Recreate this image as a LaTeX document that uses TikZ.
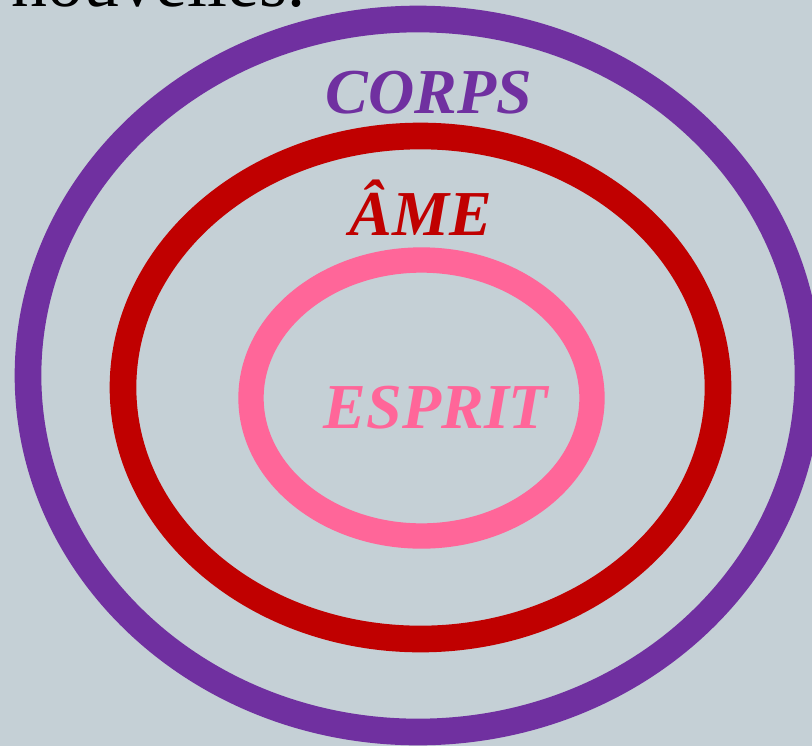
\documentclass[tikz,border=0pt]{standalone}
\usepackage{fontspec}
\setmainfont{Liberation Serif}
\usepackage{tikz}
\definecolor{bgblue}{HTML}{C5D0D6}
\definecolor{corpspurple}{HTML}{7030A0}
\definecolor{amered}{HTML}{C00000}
\definecolor{espritpink}{HTML}{FF6699}
\tikzset{
  ring/.style={line width=20pt},
  label/.style={font=\fontsize{48}{52}\selectfont\bfseries\itshape, inner sep=0pt}
}

\begin{document}
\begin{tikzpicture}[x=0.75pt,y=-0.75pt]

\fill[bgblue](0,0) rectangle (812,746);
\useasboundingbox (0,0) rectangle (812,746);

\node[anchor=base west,inner sep=0pt,font=\fontsize{54}{60}\selectfont](nouvelles) at (11,7) {nouvelles.};

\draw[ring,corpspurple](418,375.5) ellipse [x radius=390,y radius=356.5];
\draw[ring,amered](420.5,387.5) ellipse [x radius=297.5,y radius=251.5];
\draw[ring,line width=19pt,espritpink](421.5,398) ellipse [x radius=170.5,y radius=138];

\node[label,anchor=base,text=corpspurple](corps) at (429,113) {CORPS};
\node[label,anchor=base,text=amered](ame) at (421,235) {ÂME};
\node[label,anchor=base,text=espritpink](esprit) at (436,428) {ESPRIT};

\end{tikzpicture}
\end{document}
